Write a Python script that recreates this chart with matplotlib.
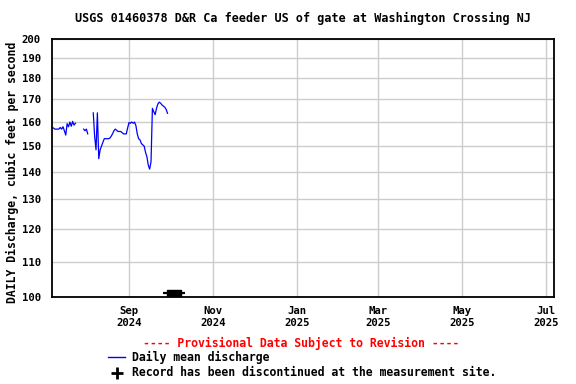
import numpy as np
import pandas as pd
import matplotlib
matplotlib.use("Agg")
import matplotlib.pyplot as plt
import matplotlib.dates as mdates
from matplotlib.lines import Line2D
from matplotlib.ticker import FixedLocator, NullLocator

plt.rcParams['font.family'] = ['DejaVu Sans Mono']
plt.rcParams['font.weight'] = 'bold'

# ---- data ----
start_date = "2024-07-07"
discharge = [
    157.5, 157.5, 157, 157, 157, 157, 157.7, 157, 158, 156.3,
    154.5, 159.3, 158, 160, 158.2, 160.3, 158.7, 159.5,
    np.nan, np.nan, np.nan, np.nan, np.nan,
    157, 156.3, 157, 155,
    np.nan, np.nan, np.nan,
    164, 154, 148.5, 164, 145, 148.5, 150, 151.5, 153, 153,
    153, 153, 153.2, 154, 155, 156.3, 157, 156.5, 156, 156,
    156, 155.5, 155, 155, 155, 157.5, 159.8, 159.5, 160, 159.5,
    160, 158.5, 155, 153, 152.5, 151, 150.5, 150, 147.5, 145.8,
    142.5, 141, 143.8, 166, 164.5, 163.2, 166, 168, 168.8, 168.3,
    167.5, 167, 166.5, 165.5, 163.8,
]
discontinued_date = ["2024-10-04"]
discontinued_level = [101.2]

x_start, x_end = "2024-07-07", "2025-07-07"
y_ticks = [100, 110, 120, 130, 140, 150, 160, 170, 180, 190, 200]
x_tick_dates = ["2024-09-01", "2024-11-01", "2025-01-01", "2025-03-01", "2025-05-01", "2025-07-01"]
x_tick_labels = ["Sep\n2024", "Nov\n2024", "Jan\n2025", "Mar\n2025", "May\n2025", "Jul\n2025"]

title = "USGS 01460378 D&R Ca feeder US of gate at Washington Crossing NJ"
ylabel = "DAILY Discharge, cubic feet per second"
provisional = "---- Provisional Data Subject to Revision ----"
legend_line = "Daily mean discharge"
legend_plus = "Record has been discontinued at the measurement site."

dates = pd.date_range(start_date, periods=len(discharge), freq="D")

fig = plt.figure(figsize=(5.76, 3.84), dpi=100)
ax = fig.add_axes([52/576, 1-297/384, (554-52)/576, (297-39)/384])

ax.plot(dates, discharge, color="#0000FF", lw=0.9)

dd = pd.to_datetime(discontinued_date)
rect = [(-1, -0.43), (1, -0.43), (1, 0.43), (-1, 0.43), (-1, -0.43)]
ax.plot(dd, discontinued_level, ls="none", marker=rect, markersize=10,
        color="black", clip_on=False, zorder=5)
ax.plot(dd, discontinued_level, ls="none", marker="_", markersize=16.5,
        mew=1.6, color="black", clip_on=False, zorder=5)

ax.set_yscale("log")
ax.set_ylim(100, 200)
ax.yaxis.set_major_locator(FixedLocator(y_ticks))
ax.yaxis.set_minor_locator(NullLocator())
ax.set_yticklabels([str(v) for v in y_ticks])

ax.set_xlim(pd.Timestamp(x_start), pd.Timestamp(x_end))
ax.set_xticks(pd.to_datetime(x_tick_dates))
ax.set_xticklabels(x_tick_labels)
ax.xaxis.set_minor_locator(NullLocator())

ax.grid(True, color="#cccccc", lw=1)
ax.set_axisbelow(True)
ax.tick_params(axis="both", length=0, labelsize=7.7)
ax.tick_params(axis="y", pad=8)
ax.tick_params(axis="x", pad=6.5)
for s in ax.spines.values():
    s.set_linewidth(1.3)
    s.set_color("black")

ax.set_title(title, fontsize=8.5, fontweight="bold", pad=12)
fig.text(12/576, 1-172/384, ylabel, rotation=90, fontsize=8.3,
         ha="center", va="center", fontweight="bold")

fig.text(301.5/576, 1-343/384, provisional, color="red", fontsize=8.3,
         ha="center", va="center", fontweight="bold")
fig.add_artist(Line2D([108/576, 125/576], [1-356.5/384, 1-356.5/384],
                      color="#0000FF", lw=1, transform=fig.transFigure))
fig.text(131.5/576, 1-357/384, legend_line, fontsize=8.3, ha="left",
         va="center", fontweight="bold")
fig.add_artist(Line2D([116.5/576], [1-373/384], marker="+", markersize=8,
                      mew=2, color="black", ls="none", transform=fig.transFigure))
fig.text(131.5/576, 1-373/384, legend_plus, fontsize=8.3, ha="left",
         va="center", fontweight="bold")

fig.savefig("out.png", dpi=100)
